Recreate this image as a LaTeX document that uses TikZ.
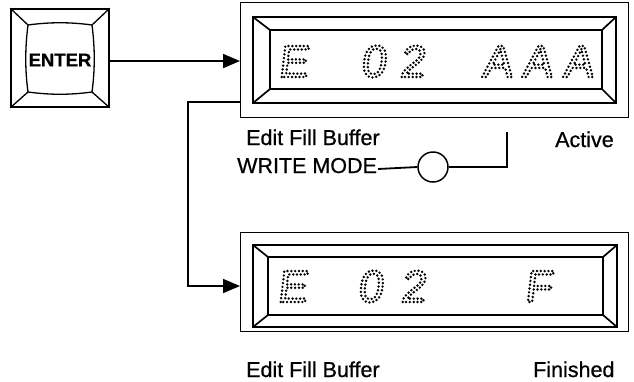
\documentclass[tikz,border=0pt]{standalone}
\usepackage{fontspec}
\setmainfont{Liberation Sans}
\newfontfamily\lblfont[FakeBold=0.7]{Liberation Sans}
\newfontfamily\dotfont[FakeSlant=0.12]{Liberation Sans}
\usetikzlibrary{arrows.meta}
\newcommand\dotglyph[1]{\special{pdf:literal direct 1 Tr 1 J 1 j [0 3.8] 0 d 2.7 w}#1\special{pdf:literal direct 0 Tr [] 0 d}}
\tikzset{
  frame/.style={line width=1.3pt},
  bezel/.style={line width=1.7pt},
  conn/.style={line width=1.8pt},
  arr/.style={conn,-{Triangle[length=17pt,width=14pt]}},
  lbl/.style={font=\lblfont\fontsize{21.5}{24}\selectfont,inner sep=0pt,anchor=base west},
  dm/.style={font=\dotfont\fontsize{45}{50}\selectfont,inner sep=0pt,anchor=base},
}
\begin{document}
\begin{tikzpicture}[x=1pt,y=-1pt]
\useasboundingbox (0,0) rectangle (634,381);
% ENTER key
\node[frame,draw,line width=1.6pt,minimum width=98pt,minimum height=98pt,inner sep=0pt] (enter) at (60,58) {};
\draw[line width=1.3pt] (28,25) .. controls (50,22) and (70,22) .. (92,25)
  .. controls (95,48) and (95,70) .. (92,92)
  .. controls (70,95) and (50,95) .. (28,92)
  .. controls (25,70) and (25,48) .. (28,25) -- cycle;
\draw[line width=1.3pt] (enter.north west) -- (28,25) (enter.north east) -- (92,25)
  (enter.south east) -- (92,92) (enter.south west) -- (28,92);
\node[font=\lblfont\bfseries\fontsize{18.5}{20}\selectfont,inner sep=0pt] (entxt) at (60,60) {ENTER};
% display 1
\node[frame,draw,minimum width=388pt,minimum height=115pt,inner sep=0pt,anchor=north west] (d1) at (240,2) {};
\draw[bezel] (253,17) rectangle (616,103);
\draw[bezel] (270,30) rectangle (602,89);
\draw[bezel] (253,17) -- (270,30) (616,17) -- (602,30) (616,103) -- (602,89) (253,103) -- (270,89);
\node[dm] (d1a) at (293,77) {\dotglyph{E}};
\node[dm] (d1b) at (373,77) {\dotglyph{0}};
\node[dm] (d1c) at (412,77) {\dotglyph{2}};
\node[dm] (d1d) at (497,77) {\dotglyph{A}};
\node[dm] (d1e) at (537,77) {\dotglyph{A}};
\node[dm] (d1f) at (578,77) {\dotglyph{A}};
% display 2
\node[frame,draw,minimum width=388pt,minimum height=99pt,inner sep=0pt,anchor=north west] (d2) at (240,232) {};
\draw[bezel] (253,245) rectangle (617,327);
\draw[bezel] (268,257) rectangle (603,315);
\draw[bezel] (253,245) -- (268,257) (617,245) -- (603,257) (617,327) -- (603,315) (253,327) -- (268,315);
\node[dm] (d2a) at (292,302) {\dotglyph{E}};
\node[dm] (d2b) at (370,302) {\dotglyph{0}};
\node[dm] (d2c) at (413,302) {\dotglyph{2}};
\node[dm] (d2d) at (538,302) {\dotglyph{F}};
% connectors
\coordinate (ea) at (109,61);
\coordinate (d1in) at (240,61);
\draw[arr] (ea) -- (d1in);
\coordinate (d1out) at (240,102);
\coordinate (bend) at (188,102);
\coordinate (d2in) at (240,286);
\draw[arr] (d1out) -- (bend) |- (d2in);
% labels
\node[lbl] (efb1) at (246,145) {Edit Fill Buffer};
\node[lbl] (act) at (555,147) {Active};
\node[lbl] (wm) at (237,173) {WRITE MODE};
\node[circle,draw,line width=1.5pt,minimum size=30pt,inner sep=0pt] (sw) at (433,167) {};
\coordinate (tap) at (507,132);
\draw[conn] (wm.base east) ++(1,-4) -- (sw.west);
\draw[conn] (sw.east) -- (tap |- sw.east) -- (tap);
\node[lbl] (efb2) at (246,377) {Edit Fill Buffer};
\node[lbl] (fin) at (533,377) {Finished};
\end{tikzpicture}
\end{document}
